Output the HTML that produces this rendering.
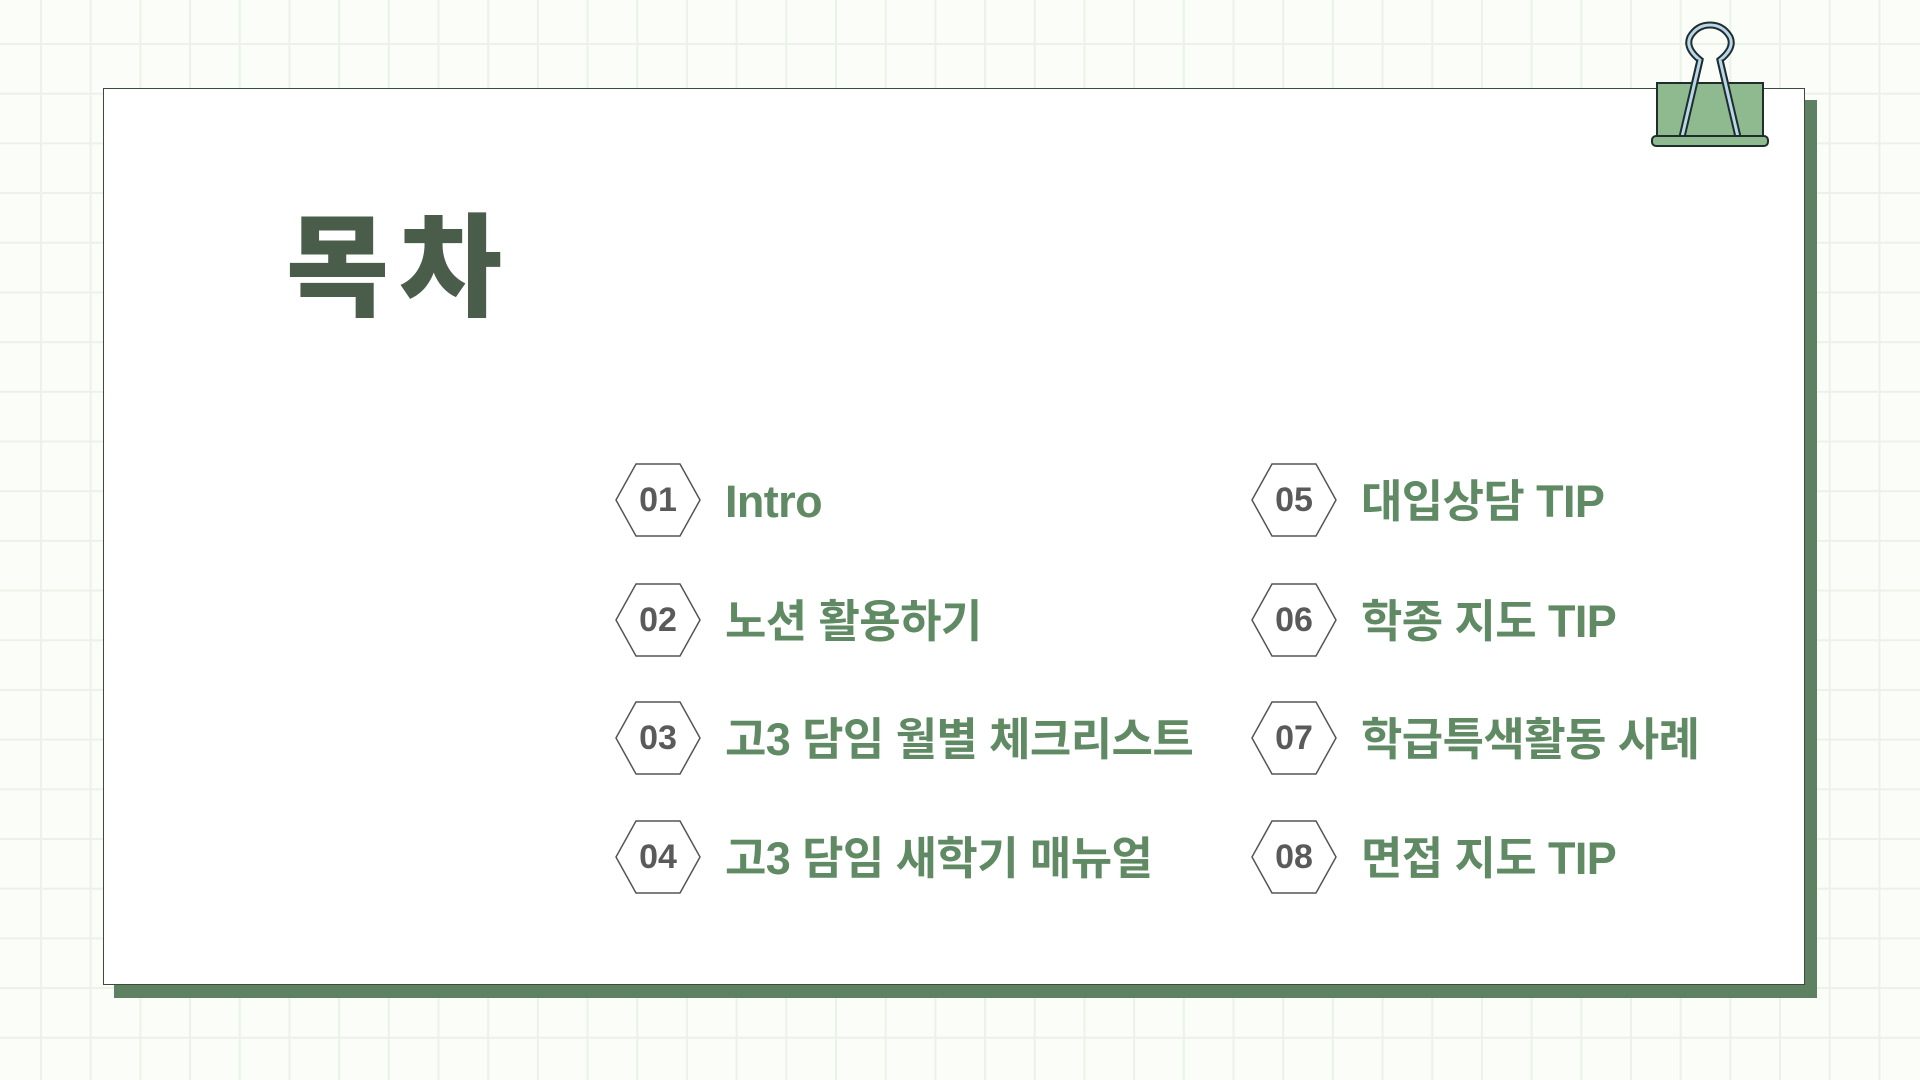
<!DOCTYPE html>
<html><head><meta charset="utf-8"><style>
body{margin:0;width:1920px;height:1080px;overflow:hidden;background-color:#fbfdf8;
background-image:linear-gradient(90deg,#ebf2e8 2px,transparent 2px),linear-gradient(#ebf2e8 2px,transparent 2px);
background-size:49.7px 49.7px;background-position:40px 43px;position:relative;font-family:"Liberation Sans","Noto Sans CJK KR",sans-serif}
.sh{position:absolute;left:114px;top:100px;width:1703px;height:898px;background:#5e8261}
.card{position:absolute;left:103px;top:88px;width:1702px;height:897px;background:#fff;border:1.5px solid #3d4a3e;box-sizing:border-box}
h1{position:absolute;left:286px;top:178px;margin:0;font-size:112px;font-weight:900;color:#4a5c4a;letter-spacing:10px}
.it{position:absolute;height:74px}
.it svg{position:absolute;left:0;top:0}
.it .n{position:absolute;left:0;width:86px;top:0;line-height:74px;text-align:center;font-size:34px;font-weight:bold;color:#5a5a5a}
.it .t{position:absolute;left:110px;top:2px;line-height:74px;white-space:nowrap;font-size:45px;font-weight:bold;color:#5f8a63;letter-spacing:-0.6px}
</style></head><body>
<div class="sh"></div><div class="card"></div>
<h1>목차</h1>
<svg style="position:absolute;left:0;top:0" width="1920" height="200">
<path d="M1682 137 L1700 60 Q1685 48 1690 37 Q1697 25 1710 25 Q1723 25 1730 37 Q1735 48 1720 60 L1738 137" fill="none" stroke="#1f2d2b" stroke-width="7"/>
<path d="M1682 137 L1700 60 Q1685 48 1690 37 Q1697 25 1710 25 Q1723 25 1730 37 Q1735 48 1720 60 L1738 137" fill="none" stroke="#b8d6ec" stroke-width="3"/>
<rect x="1657" y="83" width="106" height="54" fill="#8fb98e" stroke="#1f2d2b" stroke-width="2"/>
<path d="M1682 137 L1700 60 M1720 60 L1738 137" fill="none" stroke="#1f2d2b" stroke-width="7"/>
<path d="M1682 137 L1700 60 M1720 60 L1738 137" fill="none" stroke="#b8d6ec" stroke-width="3"/>
<rect x="1652" y="136" width="116" height="10" rx="4" fill="#8fb98e" stroke="#1f2d2b" stroke-width="2"/>
</svg>
<div class="it" style="left:615px;top:463px"><svg width="86" height="74"><polygon points="1,37 21,1 65,1 85,37 65,73 21,73" fill="none" stroke="#555" stroke-width="1.5"/></svg><div class="n">01</div><div class="t">Intro</div></div>
<div class="it" style="left:615px;top:583px"><svg width="86" height="74"><polygon points="1,37 21,1 65,1 85,37 65,73 21,73" fill="none" stroke="#555" stroke-width="1.5"/></svg><div class="n">02</div><div class="t">노션 활용하기</div></div>
<div class="it" style="left:615px;top:701px"><svg width="86" height="74"><polygon points="1,37 21,1 65,1 85,37 65,73 21,73" fill="none" stroke="#555" stroke-width="1.5"/></svg><div class="n">03</div><div class="t">고3 담임 월별 체크리스트</div></div>
<div class="it" style="left:615px;top:820px"><svg width="86" height="74"><polygon points="1,37 21,1 65,1 85,37 65,73 21,73" fill="none" stroke="#555" stroke-width="1.5"/></svg><div class="n">04</div><div class="t">고3 담임 새학기 매뉴얼</div></div>
<div class="it" style="left:1251px;top:463px"><svg width="86" height="74"><polygon points="1,37 21,1 65,1 85,37 65,73 21,73" fill="none" stroke="#555" stroke-width="1.5"/></svg><div class="n">05</div><div class="t">대입상담 TIP</div></div>
<div class="it" style="left:1251px;top:583px"><svg width="86" height="74"><polygon points="1,37 21,1 65,1 85,37 65,73 21,73" fill="none" stroke="#555" stroke-width="1.5"/></svg><div class="n">06</div><div class="t">학종 지도 TIP</div></div>
<div class="it" style="left:1251px;top:701px"><svg width="86" height="74"><polygon points="1,37 21,1 65,1 85,37 65,73 21,73" fill="none" stroke="#555" stroke-width="1.5"/></svg><div class="n">07</div><div class="t">학급특색활동 사례</div></div>
<div class="it" style="left:1251px;top:820px"><svg width="86" height="74"><polygon points="1,37 21,1 65,1 85,37 65,73 21,73" fill="none" stroke="#555" stroke-width="1.5"/></svg><div class="n">08</div><div class="t">면접 지도 TIP</div></div>
</body></html>
